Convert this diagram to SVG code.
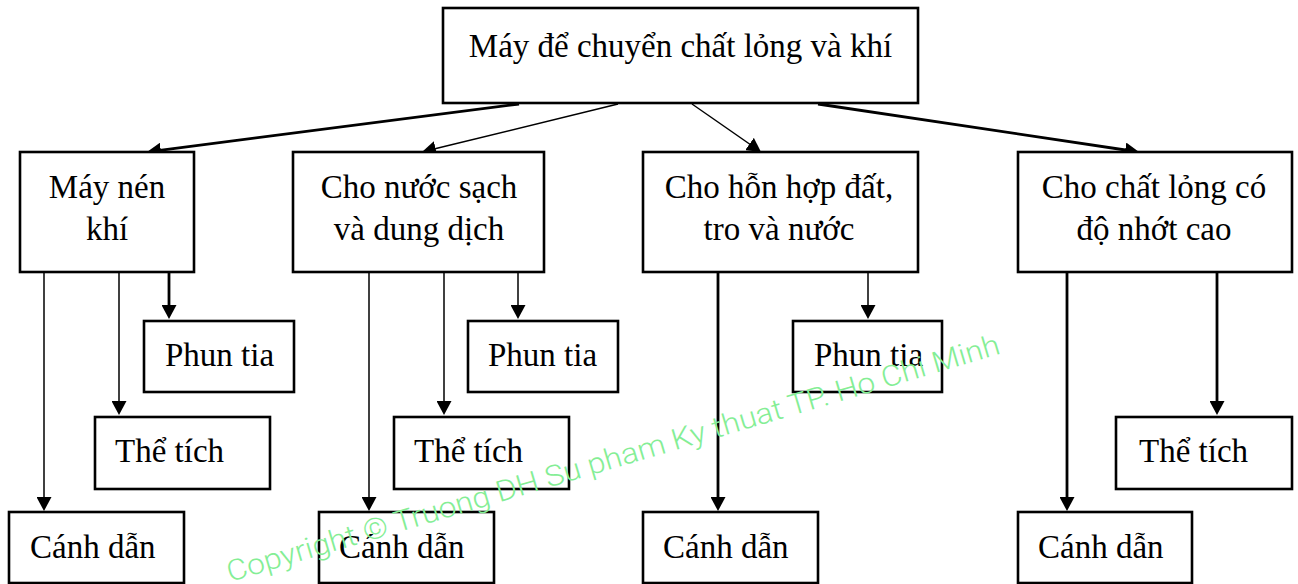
<svg xmlns="http://www.w3.org/2000/svg" width="1298" height="584" viewBox="0 0 1298 584">
<style>
.box{fill:#fff;stroke:#000;stroke-width:2.6}
.t{font-family:"Liberation Serif","Times New Roman",serif;font-size:33px;fill:#000}
.c{text-anchor:middle}
.thin{stroke:#000;stroke-width:1.5;fill:none;marker-end:url(#ah)}
.thick{stroke:#000;stroke-width:2.8;fill:none;marker-end:url(#ah)}
.wm{font-family:Roboto,"DejaVu Sans",sans-serif;font-size:29px;font-weight:300;fill:#84EE95}
</style>
<defs>
<marker id="ah" viewBox="0 0 14 15" refX="7" refY="7.5" markerWidth="14" markerHeight="15" markerUnits="userSpaceOnUse" orient="auto">
<path d="M0,0 L14,7.5 L0,15 z" fill="#000"/>
</marker>
</defs>
<rect width="1298" height="584" fill="#fff"/>
<g id="connectors">
<line class="thick" x1="519" y1="104" x2="153.9" y2="151.1"/>
<line class="thin" x1="618" y1="104" x2="428.8" y2="150.3"/>
<line class="thin" x1="692" y1="104" x2="755.3" y2="148"/>
<line class="thick" x1="818" y1="104" x2="1132.1" y2="151"/>
<line class="thin" x1="44" y1="273" x2="44" y2="504"/>
<line class="thin" x1="119" y1="273" x2="119" y2="408"/>
<line class="thick" x1="169" y1="273" x2="169" y2="312"/>
<line class="thin" x1="369" y1="273" x2="369" y2="504"/>
<line class="thin" x1="444" y1="273" x2="444" y2="408"/>
<line class="thin" x1="518" y1="273" x2="518" y2="312"/>
<line class="thick" x1="718" y1="273" x2="718" y2="504"/>
<line class="thin" x1="868" y1="273" x2="868" y2="312"/>
<line class="thick" x1="1067" y1="273" x2="1067" y2="504"/>
<line class="thick" x1="1217" y1="273" x2="1217" y2="408"/>
</g>
<g id="root"><rect class="box" x="443" y="8" width="475" height="95"/><text class="t c" x="680.5" y="57">Máy để chuyển chất lỏng và khí</text></g>
<g id="n1"><rect class="box" x="20" y="152" width="174" height="120"/><text class="t c" x="107" y="198">Máy nén</text><text class="t c" x="107" y="240">khí</text></g>
<g id="n2"><rect class="box" x="293" y="152" width="251" height="120"/><text class="t c" x="419" y="198">Cho nước sạch</text><text class="t c" x="419" y="240">và dung dịch</text></g>
<g id="n3"><rect class="box" x="643" y="152" width="275" height="120"/><text class="t c" x="779" y="198">Cho hỗn hợp đất,</text><text class="t c" x="779" y="240">tro và nước</text></g>
<g id="n4"><rect class="box" x="1018" y="152" width="274" height="120"/><text class="t c" x="1154" y="198">Cho chất lỏng có</text><text class="t c" x="1154" y="240">độ nhớt cao</text></g>
<g id="n1-phun"><rect class="box" x="144" y="321" width="150" height="71"/><text class="t" x="165" y="366">Phun tia</text></g>
<g id="n1-the"><rect class="box" x="95" y="417" width="175" height="72"/><text class="t" x="115" y="462">Thể tích</text></g>
<g id="n1-canh"><rect class="box" x="9" y="512" width="175" height="71"/><text class="t" x="30" y="558">Cánh dẫn</text></g>
<g id="n2-phun"><rect class="box" x="468" y="321" width="150" height="71"/><text class="t" x="488" y="366">Phun tia</text></g>
<g id="n2-the"><rect class="box" x="394" y="417" width="175" height="72"/><text class="t" x="414" y="462">Thể tích</text></g>
<g id="n2-canh"><rect class="box" x="319" y="512" width="175" height="71"/><text class="t" x="339" y="558">Cánh dẫn</text></g>
<g id="n3-phun"><rect class="box" x="793" y="321" width="149" height="71"/><text class="t" x="814" y="366">Phun tia</text></g>
<g id="n3-canh"><rect class="box" x="643" y="512" width="175" height="71"/><text class="t" x="663" y="558">Cánh dẫn</text></g>
<g id="n4-the"><rect class="box" x="1116" y="417" width="176" height="72"/><text class="t" x="1139" y="462">Thể tích</text></g>
<g id="n4-canh"><rect class="box" x="1018" y="512" width="174" height="71"/><text class="t" x="1038" y="558">Cánh dẫn</text></g>
<text class="wm" x="230" y="582" transform="rotate(-16.5 230 582)" textLength="805" lengthAdjust="spacingAndGlyphs">Copyright © Truong DH Su pham Ky thuat TP. Ho Chi Minh</text>
</svg>
